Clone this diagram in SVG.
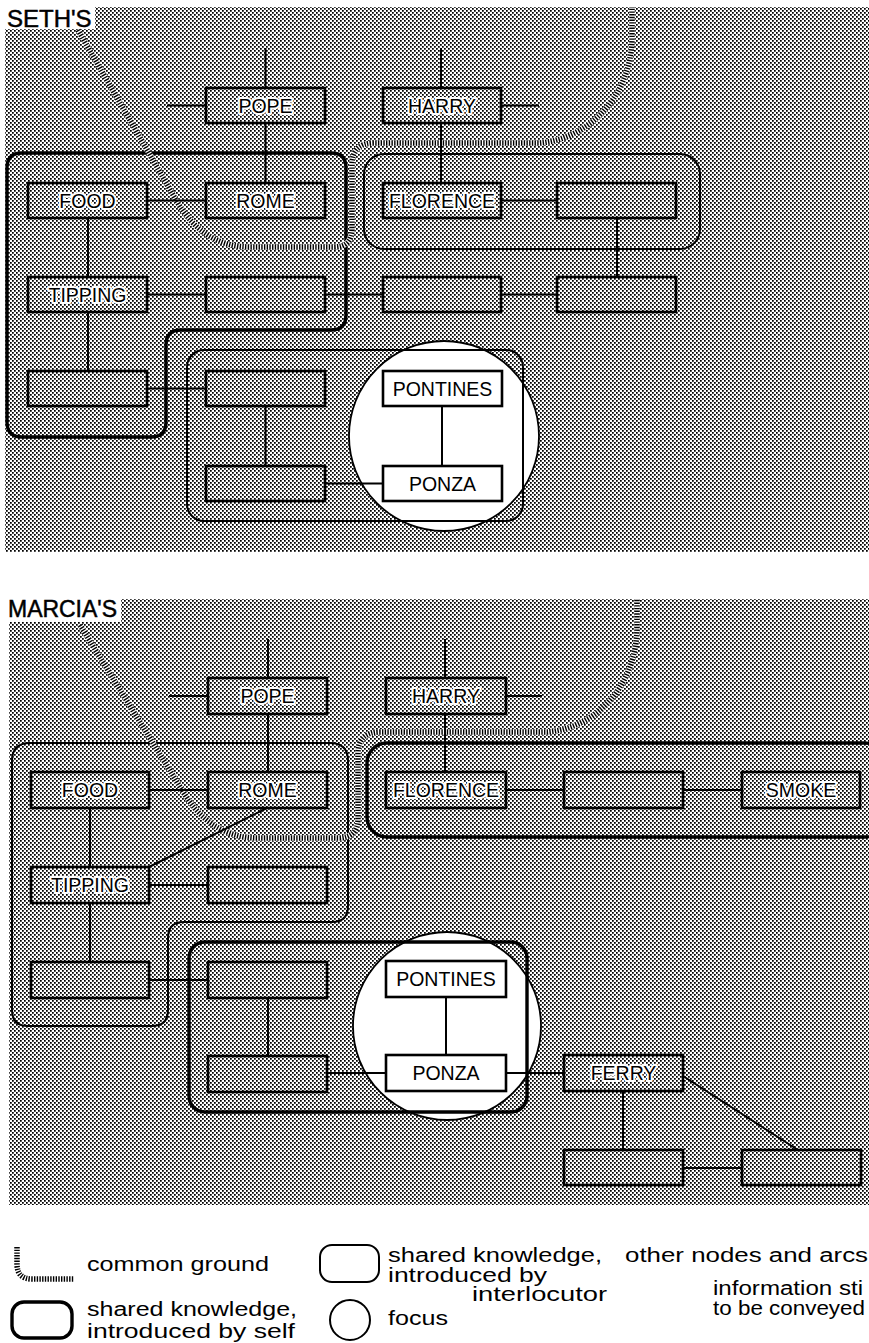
<svg xmlns="http://www.w3.org/2000/svg" width="869" height="1343" viewBox="0 0 869 1343">
<defs>
<pattern id="stip" width="4" height="4" patternUnits="userSpaceOnUse">
<rect x="0" y="0" width="1.75" height="1.75" fill="#000"/>
<rect x="2" y="2" width="1.75" height="1.75" fill="#000"/>
</pattern>
<style>
.box{fill:none;stroke:#000;stroke-width:2.6}
.wbox{fill:#fff;stroke:#000;stroke-width:2.6}
.lbl{font-family:"Liberation Sans",Arial,sans-serif;font-size:19.5px;text-anchor:middle;fill:#000;stroke:#fff;stroke-width:4;stroke-linejoin:round;paint-order:stroke}
.edge{fill:none;stroke:#000;stroke-width:2}
.self{fill:none;stroke:#000;stroke-width:3.4}
.inter{fill:none;stroke:#000;stroke-width:2}
.focus{fill:#fff;stroke:#000;stroke-width:1.8}
.cgu{fill:none;stroke:#fff;stroke-width:5.5}
.cg{fill:none;stroke:#000;stroke-width:5.5;stroke-dasharray:1.4 1.3}
.title{font-family:"Liberation Sans",Arial,sans-serif;font-size:24px;fill:#000;stroke:#000;stroke-width:0.5}
.leg{font-family:"Liberation Sans",Arial,sans-serif;font-size:20px;fill:#000}
</style>
</defs>
<rect width="869" height="1343" fill="#fff"/>

<!-- panels -->
<g id="panel-seth-bg">
<rect x="5" y="7" width="864" height="545" fill="url(#stip)"/>
<rect x="0" y="0" width="95" height="29" fill="#fff"/>
<text class="title" x="7" y="27">SETH'S</text>
</g>
<g id="panel-marcia-bg">
<rect x="9" y="599" width="860" height="606" fill="url(#stip)"/>
<rect x="0" y="596" width="121" height="26" fill="#fff"/>
<text class="title" x="8" y="617" font-size="22" textLength="109" lengthAdjust="spacingAndGlyphs">MARCIA'S</text>
</g>

<!-- focus circles -->
<g id="focus-seth"><circle class="focus" cx="444" cy="436" r="95"/></g>
<g id="focus-marcia"><circle class="focus" cx="447" cy="1026" r="94"/></g>

<!-- shared knowledge regions -->
<g id="self-seth"><path class="self" d="M22,153 H331 Q346,153 346,168 V315 Q346,330 331,330 H181 Q166,330 166,345 V422 Q166,437 151,437 H22 Q7,437 7,422 V168 Q7,153 22,153 Z"/></g>
<g id="inter-seth-top"><rect class="inter" x="364" y="154" width="336" height="95" rx="20"/></g>
<g id="inter-seth-bottom"><rect class="inter" x="187" y="350" width="336" height="171" rx="17"/></g>
<g id="inter-marcia"><path class="inter" d="M30,743 H330 Q348,743 348,761 V906 Q348,922 332,922 H184 Q168,922 168,938 V1010 Q168,1026 152,1026 H28 Q12,1026 12,1010 V761 Q12,743 30,743 Z"/></g>
<g id="self-marcia-top"><rect class="self" x="367" y="743" width="518" height="94" rx="20"/></g>
<g id="self-marcia-bottom"><rect class="self" x="189" y="942" width="338" height="170" rx="16"/></g>

<!-- common ground -->
<g id="common-ground">
<path class="cgu" d="M78,30 L176,200 Q203,247 250,247 L334,247 Q352,247 352,229 L352,165 Q352,143 374,143 L539,143 C585,140 630,100 632,40 L632,7"/>
<path class="cg" d="M78,30 L176,200 Q203,247 250,247 L334,247 Q352,247 352,229 L352,165 Q352,143 374,143 L539,143 C585,140 630,100 632,40 L632,7"/>
<path class="cgu" d="M80,625 L182,790 Q210,838 258,838 L338,838 Q358,838 358,818 L358,754 Q358,732 380,732 L547,732 C592,729 635,690 637,630 L637,599"/>
<path class="cg" d="M80,625 L182,790 Q210,838 258,838 L338,838 Q358,838 358,818 L358,754 Q358,732 380,732 L547,732 C592,729 635,690 637,630 L637,599"/>
</g>

<!-- connectors -->
<g id="connectors" class="edge">
<path class="edge" d="M265.5,48 V88 M167,105.5 H206 M441,48 V88 M501,105.5 H539"/>
<path class="edge" d="M265.5,123 V183 M441,123 V183 M147,200.5 H206 M88,218 V277 M501,200.5 H557 M617,218 V277"/>
<path class="edge" d="M147,294.5 H206 M325,294.5 H383 M501,294.5 H557 M88,312 V371 M147,388.5 H206 M265.5,406 V466 M325,483.5 H383 M442,406 V466"/>
<path class="edge" d="M268,639 V678 M169,696 H208 M445,639 V678 M506,696 H542"/>
<path class="edge" d="M268,714 V772 M445,714 V772 M149,790 H208 M90,808 V867 M506,790 H564 M683,790 H742 M267,808 L149,867"/>
<path class="edge" d="M149,885 H208 M90,903 V962 M149,980 H208 M268,998 V1056 M327,1073 H386 M446,997 V1055 M506,1073 H564 M623,1091 V1150 M683,1168 H742 M683,1076 L798,1150"/>
</g>

<!-- SETH'S nodes -->
<g id="s-pope"><rect class="box" x="206" y="88" width="119" height="35"/><text class="lbl" x="265.5" y="113">POPE</text></g>
<g id="s-harry"><rect class="box" x="383" y="88" width="118" height="35"/><text class="lbl" x="442" y="113">HARRY</text></g>
<g id="s-food"><rect class="box" x="28" y="183" width="119" height="35"/><text class="lbl" x="87.5" y="208">FOOD</text></g>
<g id="s-rome"><rect class="box" x="206" y="183" width="119" height="35"/><text class="lbl" x="265.5" y="208">ROME</text></g>
<g id="s-florence"><rect class="box" x="383" y="183" width="118" height="35"/><text class="lbl" x="442" y="208">FLORENCE</text></g>
<g id="s-d2"><rect class="box" x="557" y="183" width="119" height="35"/></g>
<g id="s-tipping"><rect class="box" x="28" y="277" width="119" height="35"/><text class="lbl" x="87.5" y="302">TIPPING</text></g>
<g id="s-b3"><rect class="box" x="206" y="277" width="119" height="35"/></g>
<g id="s-c3"><rect class="box" x="383" y="277" width="118" height="35"/></g>
<g id="s-d3"><rect class="box" x="557" y="277" width="119" height="35"/></g>
<g id="s-a4"><rect class="box" x="28" y="371" width="119" height="35"/></g>
<g id="s-b4"><rect class="box" x="206" y="371" width="119" height="35"/></g>
<g id="s-pontines"><rect class="wbox" x="383" y="371" width="119" height="35"/><text class="lbl" x="442.5" y="396">PONTINES</text></g>
<g id="s-b5"><rect class="box" x="206" y="466" width="119" height="35"/></g>
<g id="s-ponza"><rect class="wbox" x="383" y="466" width="119" height="35"/><text class="lbl" x="442.5" y="491">PONZA</text></g>

<!-- MARCIA'S nodes -->
<g id="m-pope"><rect class="box" x="208" y="678" width="119" height="36"/><text class="lbl" x="267.5" y="703">POPE</text></g>
<g id="m-harry"><rect class="box" x="386" y="678" width="120" height="36"/><text class="lbl" x="446" y="703">HARRY</text></g>
<g id="m-food"><rect class="box" x="31" y="772" width="118" height="36"/><text class="lbl" x="90" y="797">FOOD</text></g>
<g id="m-rome"><rect class="box" x="208" y="772" width="119" height="36"/><text class="lbl" x="267.5" y="797">ROME</text></g>
<g id="m-florence"><rect class="box" x="386" y="772" width="120" height="36"/><text class="lbl" x="446" y="797">FLORENCE</text></g>
<g id="m-d2"><rect class="box" x="564" y="772" width="119" height="36"/></g>
<g id="m-smoke"><rect class="box" x="742" y="772" width="118" height="36"/><text class="lbl" x="801" y="797">SMOKE</text></g>
<g id="m-tipping"><rect class="box" x="31" y="867" width="118" height="36"/><text class="lbl" x="90" y="892">TIPPING</text></g>
<g id="m-b3"><rect class="box" x="208" y="867" width="119" height="36"/></g>
<g id="m-a4"><rect class="box" x="31" y="962" width="118" height="36"/></g>
<g id="m-b4"><rect class="box" x="208" y="962" width="119" height="36"/></g>
<g id="m-pontines"><rect class="wbox" x="386" y="961" width="120" height="36"/><text class="lbl" x="446" y="986">PONTINES</text></g>
<g id="m-b5"><rect class="box" x="208" y="1056" width="119" height="36"/></g>
<g id="m-ponza"><rect class="wbox" x="386" y="1055" width="120" height="36"/><text class="lbl" x="446" y="1080">PONZA</text></g>
<g id="m-ferry"><rect class="box" x="564" y="1055" width="119" height="36"/><text class="lbl" x="623.5" y="1080">FERRY</text></g>
<g id="m-d6"><rect class="box" x="564" y="1150" width="119" height="35"/></g>
<g id="m-e6"><rect class="box" x="742" y="1150" width="119" height="35"/></g>

<!-- legend -->
<g id="legend">
<path class="cgu" d="M17,1247 V1264 Q17,1279 32,1279 H74"/>
<path class="cg" d="M17,1247 V1264 Q17,1279 32,1279 H74"/>
<text class="leg" x="87" y="1271" textLength="182" lengthAdjust="spacingAndGlyphs">common ground</text>
<rect class="self" x="12" y="1302" width="60" height="36" rx="12"/>
<text class="leg" x="87" y="1316" textLength="210" lengthAdjust="spacingAndGlyphs">shared knowledge,</text>
<text class="leg" x="87" y="1338" textLength="208" lengthAdjust="spacingAndGlyphs">introduced by self</text>
<rect class="inter" x="320" y="1245" width="59" height="37" rx="12"/>
<text class="leg" x="388" y="1262" textLength="214" lengthAdjust="spacingAndGlyphs">shared knowledge,</text>
<text class="leg" x="388" y="1282" textLength="159" lengthAdjust="spacingAndGlyphs">introduced by</text>
<text class="leg" x="472" y="1301" textLength="135" lengthAdjust="spacingAndGlyphs">interlocutor</text>
<circle cx="350" cy="1320" r="20" fill="none" stroke="#000" stroke-width="2"/>
<text class="leg" x="388" y="1325" textLength="60" lengthAdjust="spacingAndGlyphs">focus</text>
<text class="leg" x="625" y="1262" textLength="243" lengthAdjust="spacingAndGlyphs">other nodes and arcs</text>
<text class="leg" x="713" y="1295" textLength="150" lengthAdjust="spacingAndGlyphs">information sti</text>
<text class="leg" x="713" y="1315" textLength="152" lengthAdjust="spacingAndGlyphs">to be conveyed</text>
</g>
</svg>
